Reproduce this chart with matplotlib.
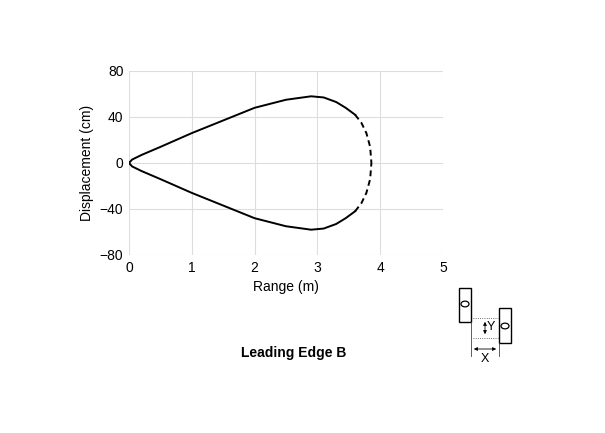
import numpy as np
import matplotlib.pyplot as plt
from matplotlib.patches import Rectangle, Circle

# upper half of the detection pattern (solid part), cm vs m
solid_x = [0, 0.05, 0.2, 0.5, 1.0, 1.5, 2.0, 2.5, 2.9, 3.1, 3.3, 3.45, 3.6]
solid_y = [0, 3, 7, 14, 26, 37, 48, 55, 58, 57, 53, 48, 42]
# dashed tip
dash_x = [3.6, 3.7, 3.78, 3.84, 3.86]
dash_y = [42, 35, 26, 14, 0]

W, H = 605, 433
fig = plt.figure(figsize=(W / 100, H / 100), dpi=100)
plt.rcParams['font.family'] = ['Liberation Sans', 'DejaVu Sans']
ax = fig.add_axes([129 / W, 1 - 255 / H, (443 - 129) / W, (255 - 71) / H])

sx = np.array(solid_x); sy = np.array(solid_y)
dx = np.array(dash_x); dy = np.array(dash_y)
for s in (1, -1):
    ax.plot(sx, s * sy, color='black', lw=1.4)
    ax.plot(dx, s * dy, color='black', lw=1.4, ls=(0, (3, 2)))

ax.set_xlim(0, 5)
ax.set_ylim(-80, 80)
ax.set_xticks(range(6))
ax.set_yticks([-80, -40, 0, 40, 80])
ax.set_yticklabels(['\u221280', '\u221240', '0', '40', '80'])
ax.grid(color='#dddddd', lw=0.8)
ax.set_axisbelow(True)
for sp in ax.spines.values():
    sp.set_visible(False)
ax.tick_params(length=0, labelsize=10, pad=4)
ax.set_xlabel('Range (m)', fontsize=10)
ax.set_ylabel('Displacement (cm)', fontsize=10)

fig.text(294 / W, 1 - 353 / H, 'Leading Edge B', ha='center', va='center',
         fontsize=10, fontweight='bold')

# sensor layout sketch, pixel coords
def P(x, y):
    return (x / W, 1 - y / H)

def add(art):
    art.set_transform(fig.transFigure)
    fig.add_artist(art)

add(Rectangle(P(459, 322), 12 / W, 34 / H, fill=False, lw=1))
add(Rectangle(P(499, 343), 12 / W, 35 / H, fill=False, lw=1))
add(plt.Line2D(*zip(P(465 - 4, 0), P(465 + 4, 0)), visible=False))
for cx, cy in ((465, 304), (505, 326)):
    c = Circle(P(cx, cy), 4 / W, fill=False, lw=0.9)
    add(c)
lines = [((473, 318), (498, 318), ':'), ((473, 338), (498, 338), ':'),
         ((471, 322), (471, 356), '-'), ((499, 343), (499, 356), '-')]
for a, b, st in lines:
    add(plt.Line2D([a[0] / W, b[0] / W], [1 - a[1] / H, 1 - b[1] / H],
                   color='#444444', lw=0.6, ls=st))
fig.add_artist(plt.matplotlib.patches.FancyArrowPatch(P(485, 319), P(485, 337),
    arrowstyle='<|-|>', mutation_scale=5, lw=0.6, color='black', transform=fig.transFigure))
fig.add_artist(plt.matplotlib.patches.FancyArrowPatch(P(471, 349), P(499, 349),
    arrowstyle='<|-|>', mutation_scale=5, lw=0.6, color='black', transform=fig.transFigure))
fig.text(*P(491, 327), 'Y', ha='center', va='center', fontsize=9)
fig.text(*P(485, 359), 'X', ha='center', va='center', fontsize=9)

fig.savefig('out.png', dpi=100)
